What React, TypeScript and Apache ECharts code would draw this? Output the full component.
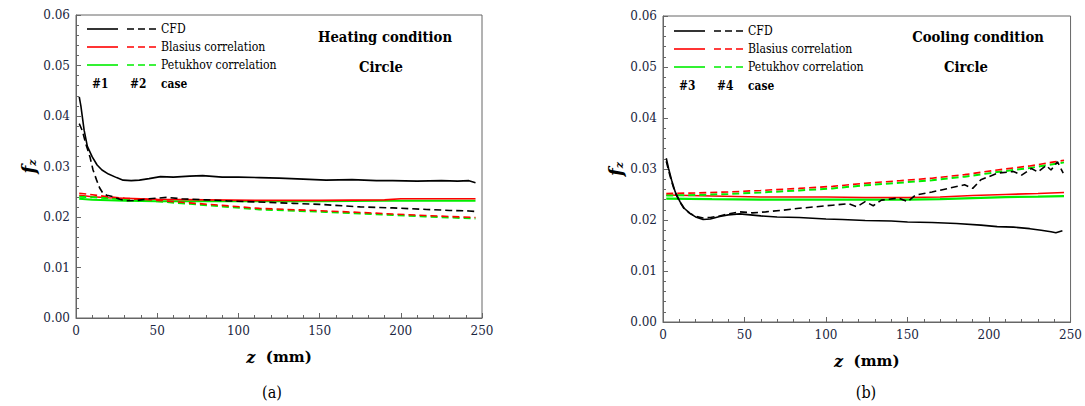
import React, { useEffect, useRef } from "react";
import * as echarts from "echarts";

// ---------- Data ----------
// (a) Heating condition
const zH1 = [2, 3, 5, 7, 10, 13, 16, 20, 25, 29, 34, 39, 45, 52, 60, 70, 78, 90, 100, 113, 125, 140, 154, 170, 185, 195, 210, 225, 235, 242, 246];
const cfdH1 = [0.0438, 0.042, 0.0372, 0.034, 0.0319, 0.0303, 0.0293, 0.0285, 0.0278, 0.0273, 0.0272, 0.0273, 0.0276, 0.028, 0.0279, 0.0281, 0.0282, 0.0279, 0.0279, 0.0278, 0.0277, 0.0275, 0.0273, 0.0274, 0.0272, 0.0272, 0.0271, 0.0272, 0.0271, 0.0272, 0.0268];
const zH2 = [2, 4, 6, 8.6, 10.5, 12.7, 14.5, 16.6, 19, 23, 27, 31, 38, 45, 56, 65, 80, 93, 110, 134, 150, 175, 195, 216, 230, 242, 246];
const cfdH2 = [0.0385, 0.037, 0.0345, 0.0319, 0.0293, 0.0273, 0.0258, 0.0247, 0.0243, 0.024, 0.0235, 0.0232, 0.0233, 0.0236, 0.0239, 0.0236, 0.0234, 0.0232, 0.023, 0.0227, 0.0225, 0.022, 0.0218, 0.0215, 0.0213, 0.0212, 0.0211];
const zHs = [2, 10, 20, 30, 50, 80, 110, 150, 190, 200, 230, 246];
const blasH1 = [0.0243, 0.024, 0.0238, 0.0237, 0.0235, 0.0234, 0.0233, 0.0233, 0.0234, 0.0236, 0.0236, 0.0236];
const petH1 = [0.0236, 0.0234, 0.0233, 0.0232, 0.0231, 0.0231, 0.0231, 0.0231, 0.0232, 0.0232, 0.0232, 0.0232];
const zHd = [2, 10, 20, 30, 50, 70, 90, 113, 130, 154, 175, 195, 215, 230, 246];
const blasH2 = [0.0247, 0.0244, 0.024, 0.0237, 0.0233, 0.0228, 0.0223, 0.0217, 0.0215, 0.0212, 0.0209, 0.0206, 0.0203, 0.0201, 0.0199];
const petH2 = [0.024, 0.0239, 0.0237, 0.0235, 0.0231, 0.0226, 0.0221, 0.0215, 0.0213, 0.021, 0.0207, 0.0204, 0.0201, 0.0199, 0.0197];

// (b) Cooling condition
const zC3 = [2, 3.5, 5.3, 7.5, 10.4, 13, 16.5, 20, 24.6, 29, 34.8, 40, 47, 60, 70, 83.5, 100, 110, 124, 140, 150, 165, 180, 195, 205, 215, 225, 232, 238, 241, 245];
const cfdC3 = [0.0321, 0.03, 0.0278, 0.0255, 0.0236, 0.0223, 0.0213, 0.0206, 0.0201, 0.0202, 0.0207, 0.021, 0.0212, 0.0208, 0.0206, 0.0205, 0.0202, 0.0201, 0.0199, 0.0198, 0.0196, 0.0195, 0.0193, 0.019, 0.0187, 0.0186, 0.0183, 0.018, 0.0177, 0.0175, 0.0179];
const zC4 = [2, 3.5, 5.3, 7.5, 10.4, 13, 16.5, 20, 24.6, 29, 34.8, 40, 47, 55, 63, 73, 83.5, 94, 104, 114, 119, 124, 129, 134, 144.5, 150, 155, 165, 175, 185, 190, 195, 205.5, 215, 220, 226, 230, 235, 238, 242, 245.5];
const cfdC4 = [0.0315, 0.0296, 0.0275, 0.0253, 0.0235, 0.0222, 0.0213, 0.0207, 0.0204, 0.0205, 0.0208, 0.0212, 0.0216, 0.0214, 0.0216, 0.0219, 0.0223, 0.0226, 0.0229, 0.0232, 0.0226, 0.0236, 0.0228, 0.0239, 0.0243, 0.0236, 0.0249, 0.0255, 0.0262, 0.0269, 0.0262, 0.0279, 0.0292, 0.0295, 0.0288, 0.0301, 0.0294, 0.0307, 0.0298, 0.0314, 0.0292];
const zCs = [2, 30, 60, 100, 124, 150, 170, 190, 210, 230, 246];
const blasC3 = [0.0249, 0.0247, 0.0245, 0.0245, 0.0244, 0.0244, 0.0245, 0.0248, 0.025, 0.0252, 0.0254];
const petC3 = [0.0242, 0.0241, 0.024, 0.024, 0.024, 0.024, 0.0241, 0.0243, 0.0245, 0.0246, 0.0247];
const zCd = [2, 20, 40, 60, 83.5, 104, 124, 145, 165, 185, 205, 225, 240, 246];
const blasC4 = [0.0252, 0.0253, 0.0255, 0.0258, 0.0262, 0.0266, 0.0272, 0.0277, 0.0282, 0.0289, 0.0298, 0.0306, 0.0314, 0.0317];
const petC4 = [0.0248, 0.0249, 0.0251, 0.0254, 0.0258, 0.0262, 0.0268, 0.0273, 0.0278, 0.0285, 0.0294, 0.0302, 0.031, 0.0313];

const legendNames = ["CFD", "Blasius correlation", "Petukhov correlation"];
const legendColors = ["#000000", "#ff0000", "#00ee00"];
const xTicks = { min: 0, max: 250, interval: 50 };
const yTicks = { min: 0, max: 0.06, interval: 0.01 };

const SERIF = "DejaVu Serif";
const TICK_COLOR = "#1a2540";

function pairs(z: number[], v: number[]) {
  return z.map((x, i) => [x, v[i]]);
}

function line(name: string, idx: number, z: number[], v: number[], color: string, dashed: boolean, width = 1.6) {
  return {
    type: "line",
    name,
    xAxisIndex: idx,
    yAxisIndex: idx,
    data: pairs(z, v),
    showSymbol: false,
    symbol: "none",
    lineStyle: { color, width, type: dashed ? [7, 4] : "solid" },
    z: color === "#000000" ? 5 : 3,
  };
}

function xAxis(grid: number) {
  return {
    type: "value",
    gridIndex: grid,
    ...xTicks,
    name: "{i|z}{b|  (mm)}",
    nameLocation: "middle",
    nameGap: 31,
    nameTextStyle: {
      rich: {
        i: { fontFamily: SERIF, fontStyle: "italic", fontWeight: "bold", fontSize: 16, color: "#000" },
        b: { fontFamily: SERIF, fontWeight: "bold", fontSize: 15, color: "#000" },
      },
    },
    axisLine: { show: true, lineStyle: { color: "#666", width: 1 } },
    axisTick: { show: true, inside: true, length: 5, lineStyle: { color: "#666" } },
    minorTick: { show: true, splitNumber: 5, length: 3, lineStyle: { color: "#666" } },
    splitLine: { show: false },
    axisLabel: { fontFamily: SERIF, fontSize: 12, color: TICK_COLOR, margin: 7 },
  };
}

function yAxis(grid: number) {
  return {
    type: "value",
    gridIndex: grid,
    ...yTicks,
    name: "{f|f}{s|z}",
    nameLocation: "middle",
    nameGap: 38,
    nameTextStyle: {
      rich: {
        f: { fontFamily: SERIF, fontStyle: "italic", fontWeight: "bold", fontSize: 18, color: "#000" },
        s: { fontFamily: SERIF, fontStyle: "italic", fontWeight: "bold", fontSize: 11, color: "#000", verticalAlign: "bottom", padding: [8, 0, 0, 0] },
      },
    },
    axisLine: { show: true, lineStyle: { color: "#666", width: 1 } },
    axisTick: { show: true, inside: true, length: 5, lineStyle: { color: "#666" } },
    minorTick: { show: true, splitNumber: 5, length: 3, lineStyle: { color: "#666" } },
    splitLine: { show: false },
    axisLabel: { fontFamily: SERIF, fontSize: 12, color: TICK_COLOR, margin: 6, formatter: (v: number) => v.toFixed(2) },
  };
}

function legendGraphics(x0: number, y0: number, cases: string[]) {
  const els: any[] = [];
  legendNames.forEach((name, i) => {
    const y = y0 + i * 18;
    els.push({ type: "line", shape: { x1: x0, y1: y, x2: x0 + 31, y2: y }, style: { stroke: legendColors[i], lineWidth: 1.6 } });
    els.push({ type: "line", shape: { x1: x0 + 40, y1: y, x2: x0 + 71, y2: y }, style: { stroke: legendColors[i], lineWidth: 1.6, lineDash: [7, 4] } });
    els.push({ type: "text", x: x0 + 74, y, scaleX: 0.84, style: { text: name, fontFamily: SERIF, fontSize: 13, fill: "#000", verticalAlign: "middle" } });
  });
  const yc = y0 + 55;
  const caseStyle = { fontFamily: SERIF, fontSize: 13, fontWeight: "bold", fill: "#000", verticalAlign: "middle" };
  els.push({ type: "text", x: x0 + 5, y: yc, scaleX: 0.82, style: { text: cases[0], ...caseStyle } });
  els.push({ type: "text", x: x0 + 43, y: yc, scaleX: 0.82, style: { text: cases[1], ...caseStyle } });
  els.push({ type: "text", x: x0 + 74, y: yc, scaleX: 0.82, style: { text: "case", ...caseStyle } });
  return els;
}

function titleText(cx: number, y: number, text: string) {
  return { type: "text", x: cx, y, scaleX: 0.88, style: { text, fontFamily: SERIF, fontSize: 15, fontWeight: "bold", fill: "#000", align: "center", verticalAlign: "middle" } };
}

export default function App() {
  const ref = useRef<HTMLDivElement>(null);
  useEffect(() => {
    document.body.style.margin = "0";
    if (!ref.current) return;
    const chart = echarts.init(ref.current, undefined, { renderer: "svg" });
    chart.setOption({
      animation: false,
      backgroundColor: "#fff",
      textStyle: { fontFamily: SERIF },
      grid: [
        { left: 76, top: 15, width: 406, height: 303, show: true, borderColor: "#666", borderWidth: 1, backgroundColor: "transparent" },
        { left: 663, top: 16, width: 410, height: 306, show: true, borderColor: "#666", borderWidth: 1, backgroundColor: "transparent" },
      ],
      xAxis: [xAxis(0), xAxis(1)],
      yAxis: [yAxis(0), yAxis(1)],
      series: [
        line("Petukhov #1", 0, zHs, petH1, legendColors[2], false, 2),
        line("Blasius #1", 0, zHs, blasH1, legendColors[1], false),
        line("Petukhov #2", 0, zHd, petH2, legendColors[2], true, 2),
        line("Blasius #2", 0, zHd, blasH2, legendColors[1], true),
        line("CFD #1", 0, zH1, cfdH1, legendColors[0], false),
        line("CFD #2", 0, zH2, cfdH2, legendColors[0], true),
        line("Petukhov #3", 1, zCs, petC3, legendColors[2], false, 2.2),
        line("Blasius #3", 1, zCs, blasC3, legendColors[1], false),
        line("Petukhov #4", 1, zCd, petC4, legendColors[2], true, 2),
        line("Blasius #4", 1, zCd, blasC4, legendColors[1], true),
        line("CFD #3", 1, zC3, cfdC3, legendColors[0], false),
        line("CFD #4", 1, zC4, cfdC4, legendColors[0], true),
      ],
      graphic: [
        ...legendGraphics(87, 29, ["#1", "#2"]),
        ...legendGraphics(674, 31, ["#3", "#4"]),
        titleText(385, 37, "Heating condition"),
        titleText(381, 67, "Circle"),
        titleText(978, 37, "Cooling condition"),
        titleText(966, 67, "Circle"),
        { type: "text", x: 272, y: 393, scaleX: 0.9, style: { text: "(a)", fontFamily: SERIF, fontSize: 16, fill: "#000", align: "center", verticalAlign: "middle" } },
        { type: "text", x: 866, y: 393, scaleX: 0.9, style: { text: "(b)", fontFamily: SERIF, fontSize: 16, fill: "#000", align: "center", verticalAlign: "middle" } },
      ],
    });
    return () => chart.dispose();
  }, []);
  return <div ref={ref} style={{ width: 1085, height: 406 }} />;
}
